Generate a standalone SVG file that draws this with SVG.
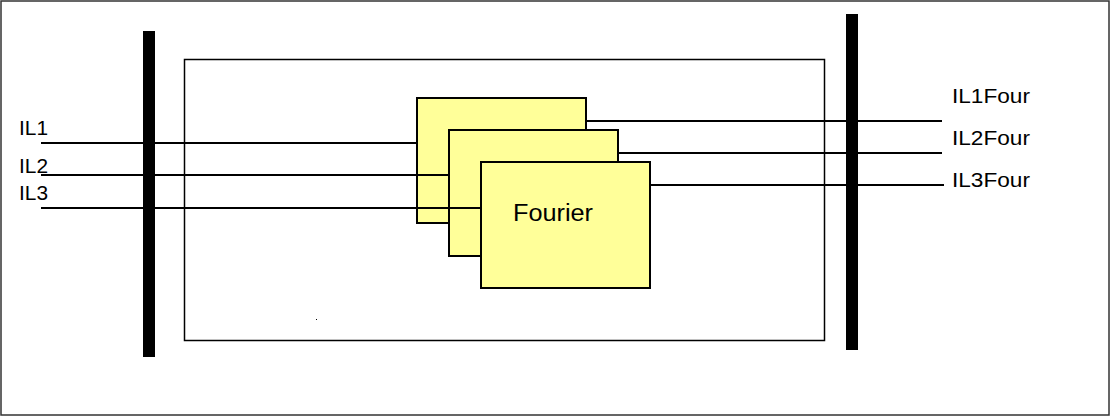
<svg xmlns="http://www.w3.org/2000/svg" width="1110" height="417" viewBox="0 0 1110 417">
<style>
.lbl{font-family:"Liberation Sans",Arial,sans-serif;font-size:20.5px;fill:#000}
.box{fill:#FFFF99;stroke:#000;stroke-width:2}
.bar{fill:#000}
.wire{stroke:#000;stroke-width:2;fill:none}
</style>
<rect x="1" y="1" width="1108" height="414" fill="#fff" stroke="#333" stroke-width="1.5"/>
<g id="frame"><rect x="184.5" y="59.5" width="640" height="281" fill="none" stroke="#000" stroke-width="1.5"/></g>
<g id="busLeft"><rect class="bar" x="143" y="31" width="12" height="326"/></g>
<g id="busRight"><rect class="bar" x="846" y="14" width="12" height="336"/></g>
<g id="fourier1"><rect class="box" x="417" y="98" width="169" height="125"/></g>
<g id="fourier2"><rect class="box" x="449" y="130" width="169" height="126"/></g>
<g id="fourier3"><rect class="box" x="481" y="162" width="169" height="126"/>
<text class="lbl" x="513" y="221" style="font-size:23.5px" textLength="80" lengthAdjust="spacingAndGlyphs">Fourier</text></g>
<g id="connectors">
<line class="wire" x1="41" y1="143" x2="417" y2="143"/>
<line class="wire" x1="41" y1="175" x2="449" y2="175"/>
<line class="wire" x1="41" y1="208" x2="481" y2="208"/>
<line class="wire" x1="586" y1="121" x2="942" y2="121"/>
<line class="wire" x1="618" y1="153" x2="942" y2="153"/>
<line class="wire" x1="650" y1="185" x2="944" y2="185"/>
</g>
<g id="labels">
<text class="lbl" x="19" y="135" textLength="29" lengthAdjust="spacingAndGlyphs">IL1</text>
<text class="lbl" x="19" y="173" textLength="29" lengthAdjust="spacingAndGlyphs">IL2</text>
<text class="lbl" x="19" y="200" textLength="29" lengthAdjust="spacingAndGlyphs">IL3</text>
<text class="lbl" x="952" y="103" textLength="78" lengthAdjust="spacingAndGlyphs">IL1Four</text>
<text class="lbl" x="952" y="145" textLength="78" lengthAdjust="spacingAndGlyphs">IL2Four</text>
<text class="lbl" x="952" y="187" textLength="78" lengthAdjust="spacingAndGlyphs">IL3Four</text>
</g>
<rect x="316" y="319" width="1" height="1" fill="#000"/>
</svg>
